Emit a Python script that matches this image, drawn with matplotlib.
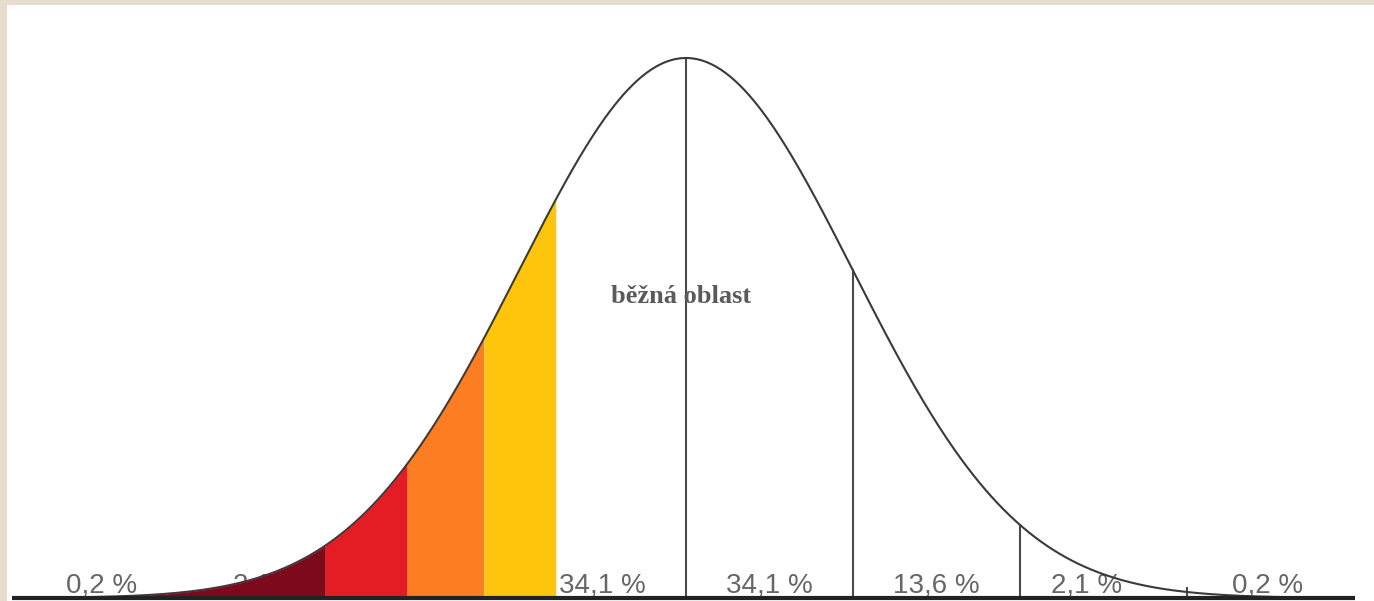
import numpy as np
import matplotlib
matplotlib.use("Agg")
import matplotlib.pyplot as plt

# ---- data ----
mean = 0.0
sigma = 1.0
curve_range = [-3.7, 3.7]
sigma_lines = [0, 1, 2, 3]
band_edges = [-3.7, -2.16, -1.67, -1.21, -0.78]
band_colors = ["#7d0a1c", "#e41c24", "#fd7e22", "#fec50c"]
label_pos = [-3.5, -2.5, -1.5, -0.5, 0.5, 1.5, 2.4, 3.48]
labels = ["0,2 %", "2,1 %", "13,6 %", "34,1 %", "34,1 %", "13,6 %", "2,1 %", "0,2 %"]
center_text = "běžná oblast"

def pdf(z):
    return np.exp(-0.5 * ((z - mean) / sigma) ** 2)

W, H = 1374, 601
fig = plt.figure(figsize=(W / 100, H / 100), dpi=100, facecolor="#e7ddcc")
px0, py_top = 7, 5
ax = fig.add_axes([px0 / W, 0, (W - px0) / W, (H - py_top) / H])
ax.set_facecolor("white")
for sp in ax.spines.values():
    sp.set_visible(False)
ax.set_xticks([])
ax.set_yticks([])
cx, s_px, base_px, peak_px = 686, 167, 598, 540
ax.set_xlim((px0 - cx) / s_px, (W - cx) / s_px)
ax.set_ylim(-(H - base_px) / peak_px, (base_px - py_top) / peak_px)

# labels (under the colored bands)
for p, t in zip(label_pos, labels):
    ax.text(p, 6 / peak_px, t, ha="center", va="baseline", fontsize=20,
            family="Liberation Sans", color="#666666", zorder=1)

# colored bands
for i, c in enumerate(band_colors):
    zz = np.linspace(band_edges[i], band_edges[i + 1], 200)
    ax.fill_between(zz, 0, pdf(zz), color=c, lw=0, zorder=2)

# curve
z = np.linspace(curve_range[0], curve_range[1], 800)
ax.plot(z, pdf(z), color="#3a3a3a", lw=1.5, zorder=4)

# sigma lines
for sl in sigma_lines:
    ax.plot([sl, sl], [0, max(pdf(sl), 0.018)], color="#4a4a4a", lw=1.5, zorder=3)

# baseline
ax.plot([(12 - cx) / s_px, (1355 - cx) / s_px], [0, 0], color="#222222",
        lw=3, zorder=5, solid_capstyle="butt")

ax.text((611 - cx) / s_px, (base_px - 303) / peak_px, center_text, ha="left",
        va="baseline", fontsize=19, family="Liberation Serif", fontweight="bold",
        color="#5a5a5a", zorder=3)

fig.savefig("out.png", dpi=100, facecolor=fig.get_facecolor())
